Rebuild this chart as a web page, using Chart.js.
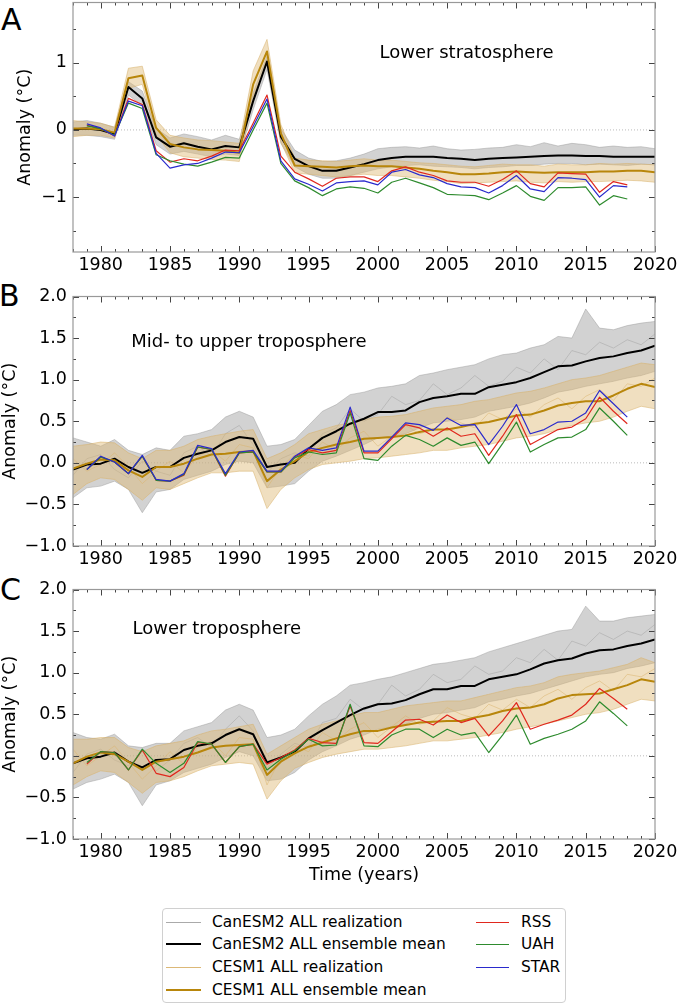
<!DOCTYPE html>
<html>
<head>
<meta charset="utf-8">
<script src="https://cdn.jsdelivr.net/npm/chart.js@4.4.0/dist/chart.umd.min.js"></script>
<style>
html, body { margin: 0; padding: 0; background: #fff; overflow: hidden; width: 677px; height: 1004px; }
body { position: relative; font-family: 'DejaVu Sans', sans-serif; }
canvas { position: absolute; left: 0; }
.letter { position: absolute; font-size: 30px; line-height: 30px; color: #000; }
#legend { position: absolute; left: 162px; top: 908px; width: 402px; height: 93px; border: 1px solid #d0d0d0; border-radius: 4px; font-size: 15.4px; color: #000; background: #fff; }
.item { position: absolute; height: 20px; display: flex; align-items: center; white-space: nowrap; }
.item i { display: inline-block; height: 0; }
</style>
</head>
<body>
<div class="letter" style="left:1px; top:5px;">A</div>
<div class="letter" style="left:-1px; top:281px;">B</div>
<div class="letter" style="left:0px; top:575px;">C</div>
<canvas id="chartA" width="700" height="296" style="top:-14px"></canvas>
<canvas id="chartB" width="700" height="296" style="top:280px"></canvas>
<canvas id="chartC" width="700" height="313" style="top:573px"></canvas>

<div id="legend">
  <div class="item" style="left:3px; top:3px;"><i style="width:35px; margin-right:11px; border-top:1.5px solid #aaaaaa"></i>CanESM2 ALL realization</div>
  <div class="item" style="left:3px; top:25px;"><i style="width:35px; margin-right:11px; border-top:2.5px solid #000"></i>CanESM2 ALL ensemble mean</div>
  <div class="item" style="left:3px; top:48px;"><i style="width:35px; margin-right:11px; border-top:1.5px solid #dcb877"></i>CESM1 ALL realization</div>
  <div class="item" style="left:3px; top:71px;"><i style="width:35px; margin-right:11px; border-top:2.5px solid #b8860b"></i>CESM1 ALL ensemble mean</div>
  <div class="item" style="left:313px; top:3px;"><i style="width:33px; margin-right:12px; border-top:1.5px solid #e0281e"></i>RSS</div>
  <div class="item" style="left:313px; top:25px;"><i style="width:33px; margin-right:12px; border-top:1.5px solid #2e8b2e"></i>UAH</div>
  <div class="item" style="left:313px; top:48px;"><i style="width:33px; margin-right:12px; border-top:1.5px solid #2a2acc"></i>STAR</div>
</div>

<script>
// years of model output and of satellite records
const years = [1978, 1979, 1980, 1981, 1982, 1983, 1984, 1985, 1986, 1987,
  1988, 1989, 1990, 1991, 1992, 1993, 1994, 1995, 1996, 1997,
  1998, 1999, 2000, 2001, 2002, 2003, 2004, 2005, 2006, 2007,
  2008, 2009, 2010, 2011, 2012, 2013, 2014, 2015, 2016, 2017,
  2018, 2019, 2020];
const obsYears = years.slice(1, 41);

const xMajor = [1980, 1985, 1990, 1995, 2000, 2005, 2010, 2015, 2020];
const yMajorA = [-1, 0, 1];
const yMinorA = [-1.5, -0.5, 0.5, 1.5];
const yMajorBC = [-1, -0.5, 0, 0.5, 1, 1.5, 2];
const yMinorBC = [-0.75, -0.25, 0.25, 0.75, 1.25, 1.75];

// ---- A: lower stratosphere
const canMeanA = [0.01, 0.02, 0.00, -0.06, 0.64, 0.47, -0.11, -0.25, -0.20, -0.25,
  -0.29, -0.24, -0.26, 0.43, 1.02, -0.10, -0.43, -0.54, -0.61, -0.61,
  -0.56, -0.51, -0.45, -0.42, -0.40, -0.40, -0.40, -0.42, -0.43, -0.45,
  -0.43, -0.42, -0.41, -0.40, -0.39, -0.38, -0.38, -0.39, -0.39, -0.40,
  -0.40, -0.40, -0.40];
const cesMeanA = [0.02, 0.02, 0.01, -0.04, 0.77, 0.81, 0.03, -0.21, -0.26, -0.29,
  -0.30, -0.31, -0.34, 0.68, 1.17, -0.05, -0.53, -0.54, -0.55, -0.56,
  -0.54, -0.53, -0.54, -0.54, -0.56, -0.58, -0.61, -0.63, -0.66, -0.66,
  -0.65, -0.63, -0.62, -0.63, -0.64, -0.63, -0.63, -0.63, -0.62, -0.62,
  -0.61, -0.61, -0.63];
const canHiA = [0.12, 0.14, 0.10, 0.04, 0.72, 0.58, 0.02, -0.12, -0.06, -0.10,
  -0.15, -0.08, -0.14, 0.55, 1.10, 0.02, -0.30, -0.42, -0.47, -0.46,
  -0.42, -0.36, -0.28, -0.26, -0.25, -0.27, -0.24, -0.28, -0.30, -0.29,
  -0.27, -0.26, -0.22, -0.25, -0.19, -0.24, -0.20, -0.22, -0.26, -0.24,
  -0.26, -0.25, -0.28];
const canLoA = [-0.08, -0.08, -0.10, -0.14, 0.52, 0.36, -0.22, -0.36, -0.32, -0.36,
  -0.40, -0.36, -0.38, 0.30, 0.90, -0.20, -0.55, -0.66, -0.72, -0.72,
  -0.68, -0.63, -0.58, -0.55, -0.53, -0.52, -0.54, -0.55, -0.56, -0.58,
  -0.56, -0.55, -0.53, -0.53, -0.51, -0.50, -0.50, -0.52, -0.51, -0.52,
  -0.53, -0.51, -0.52];
const cesHiA = [0.14, 0.12, 0.10, 0.04, 0.92, 0.95, 0.15, -0.08, -0.12, -0.15,
  -0.16, -0.18, -0.20, 0.88, 1.35, 0.08, -0.42, -0.45, -0.46, -0.47,
  -0.45, -0.43, -0.45, -0.45, -0.47, -0.49, -0.50, -0.52, -0.54, -0.55,
  -0.53, -0.51, -0.52, -0.52, -0.54, -0.51, -0.52, -0.52, -0.50, -0.51,
  -0.50, -0.51, -0.52];
const cesLoA = [-0.10, -0.08, -0.08, -0.12, 0.62, 0.68, -0.08, -0.34, -0.40, -0.42,
  -0.44, -0.45, -0.47, 0.50, 1.00, -0.18, -0.64, -0.66, -0.68, -0.70,
  -0.68, -0.66, -0.68, -0.68, -0.70, -0.72, -0.75, -0.77, -0.80, -0.79,
  -0.78, -0.77, -0.76, -0.78, -0.79, -0.77, -0.78, -0.77, -0.77, -0.76,
  -0.75, -0.76, -0.78];
const rssA = [0.07, 0.02, -0.09, 0.47, 0.38, -0.31, -0.48, -0.43, -0.46, -0.39,
  -0.30, -0.31, 0.10, 0.52, -0.39, -0.63, -0.73, -0.84, -0.72, -0.70,
  -0.70, -0.77, -0.61, -0.55, -0.63, -0.68, -0.76, -0.78, -0.78, -0.84,
  -0.74, -0.61, -0.80, -0.85, -0.64, -0.65, -0.66, -0.93, -0.77, -0.82];
const starA = [0.09, 0.03, -0.09, 0.43, 0.36, -0.35, -0.57, -0.52, -0.50, -0.42,
  -0.33, -0.34, 0.05, 0.46, -0.46, -0.73, -0.81, -0.91, -0.79, -0.77,
  -0.76, -0.82, -0.63, -0.59, -0.67, -0.71, -0.80, -0.85, -0.86, -0.94,
  -0.83, -0.68, -0.88, -0.92, -0.71, -0.72, -0.74, -1.00, -0.83, -0.85];
const uahA = [0.06, 0.02, -0.08, 0.40, 0.32, -0.37, -0.46, -0.51, -0.54, -0.48,
  -0.41, -0.42, 0.00, 0.40, -0.50, -0.76, -0.86, -0.98, -0.88, -0.85,
  -0.87, -0.94, -0.78, -0.72, -0.79, -0.86, -0.96, -0.97, -0.98, -1.04,
  -0.94, -0.83, -0.99, -1.05, -0.86, -0.86, -0.85, -1.12, -0.98, -1.03];

// ---- B: mid- to upper troposphere
const canMeanB = [-0.08, -0.02, -0.01, 0.05, -0.05, -0.12, -0.05, -0.05, 0.06, 0.11,
  0.15, 0.25, 0.31, 0.29, -0.05, -0.02, 0.00, 0.17, 0.30, 0.38,
  0.47, 0.53, 0.61, 0.61, 0.63, 0.73, 0.78, 0.80, 0.83, 0.83,
  0.91, 0.94, 0.97, 1.02, 1.09, 1.16, 1.17, 1.22, 1.26, 1.28,
  1.32, 1.35, 1.41];
const cesMeanB = [-0.07, -0.01, 0.04, 0.03, -0.09, -0.17, -0.05, -0.05, -0.01, 0.05,
  0.10, 0.11, 0.13, 0.14, -0.22, -0.08, 0.02, 0.13, 0.18, 0.22,
  0.25, 0.29, 0.30, 0.31, 0.33, 0.37, 0.40, 0.40, 0.43, 0.47,
  0.49, 0.53, 0.57, 0.58, 0.63, 0.69, 0.72, 0.74, 0.74, 0.81,
  0.89, 0.95, 0.91];
const canHiB = [0.30, 0.25, 0.20, 0.28, 0.15, 0.10, 0.18, 0.15, 0.32, 0.35,
  0.40, 0.55, 0.62, 0.55, 0.20, 0.22, 0.28, 0.45, 0.62, 0.70,
  0.82, 0.85, 0.90, 0.92, 0.95, 1.05, 1.08, 1.12, 1.15, 1.18,
  1.25, 1.30, 1.32, 1.38, 1.42, 1.52, 1.50, 1.85, 1.62, 1.60,
  1.65, 1.68, 1.70];
const canLoB = [-0.42, -0.30, -0.28, -0.22, -0.32, -0.60, -0.35, -0.32, -0.20, -0.15,
  -0.10, -0.02, 0.02, 0.00, -0.30, -0.28, -0.25, -0.10, 0.02, 0.08,
  0.15, 0.22, 0.30, 0.32, 0.35, 0.42, 0.48, 0.50, 0.52, 0.55,
  0.62, 0.65, 0.68, 0.72, 0.78, 0.85, 0.88, 0.92, 0.95, 0.98,
  1.02, 1.05, 1.10];
const canRB = [-0.15, 0.05, 0.10, -0.08, -0.18, 0.02, -0.10, -0.15, 0.12, 0.20,
  0.08, 0.35, 0.45, 0.22, -0.12, 0.05, 0.12, 0.08, 0.35, 0.42,
  0.65, 0.50, 0.58, 0.80, 0.70, 0.75, 0.95, 0.82, 0.90, 1.05,
  0.92, 0.98, 1.15, 1.08, 1.25, 1.12, 1.35, 1.30, 1.45, 1.38,
  1.48, 1.42, 1.55];
const cesHiB = [0.20, 0.22, 0.25, 0.24, 0.12, 0.05, 0.15, 0.15, 0.20, 0.28,
  0.32, 0.35, 0.38, 0.40, 0.05, 0.12, 0.22, 0.35, 0.40, 0.45,
  0.48, 0.52, 0.55, 0.56, 0.58, 0.62, 0.66, 0.68, 0.70, 0.74,
  0.76, 0.80, 0.84, 0.86, 0.90, 0.95, 1.00, 1.02, 1.05, 1.10,
  1.15, 1.20, 1.18];
const cesLoB = [-0.38, -0.25, -0.18, -0.20, -0.32, -0.45, -0.30, -0.32, -0.25, -0.18,
  -0.12, -0.12, -0.10, -0.10, -0.55, -0.32, -0.18, -0.08, -0.02, 0.00,
  0.02, 0.05, 0.06, 0.08, 0.10, 0.12, 0.15, 0.15, 0.18, 0.20,
  0.22, 0.26, 0.30, 0.32, 0.35, 0.40, 0.45, 0.48, 0.50, 0.55,
  0.62, 0.68, 0.65];
const cesRB = [0.05, -0.10, -0.02, 0.12, -0.05, -0.25, -0.10, 0.02, -0.12, 0.08,
  0.15, 0.02, 0.22, 0.18, -0.30, -0.05, 0.10, 0.05, 0.25, 0.15,
  0.30, 0.38, 0.20, 0.32, 0.45, 0.35, 0.40, 0.55, 0.48, 0.42,
  0.60, 0.52, 0.65, 0.55, 0.70, 0.78, 0.65, 0.80, 0.88, 0.75,
  0.95, 0.92, 1.02];
const rssB = [-0.08, 0.07, 0.01, -0.13, 0.08, -0.21, -0.22, -0.15, 0.19, 0.16,
  -0.16, 0.12, 0.13, -0.11, -0.11, 0.07, 0.16, 0.12, 0.15, 0.63,
  0.12, 0.12, 0.29, 0.46, 0.42, 0.32, 0.42, 0.32, 0.35, 0.09,
  0.32, 0.58, 0.22, 0.31, 0.40, 0.43, 0.53, 0.79, 0.62, 0.47];
const uahB = [-0.08, 0.07, 0.01, -0.13, 0.08, -0.21, -0.22, -0.14, 0.19, 0.16,
  -0.15, 0.12, 0.13, -0.11, -0.11, 0.06, 0.13, 0.10, 0.12, 0.60,
  0.05, 0.03, 0.20, 0.33, 0.28, 0.20, 0.30, 0.21, 0.25, -0.01,
  0.23, 0.49, 0.13, 0.22, 0.30, 0.31, 0.40, 0.66, 0.50, 0.33];
const starB = [-0.08, 0.08, 0.01, -0.13, 0.09, -0.20, -0.22, -0.13, 0.21, 0.17,
  -0.13, 0.13, 0.15, -0.10, -0.10, 0.08, 0.18, 0.15, 0.18, 0.67,
  0.14, 0.14, 0.31, 0.48, 0.46, 0.39, 0.54, 0.45, 0.46, 0.22,
  0.44, 0.70, 0.35, 0.40, 0.49, 0.50, 0.60, 0.87, 0.71, 0.55];

// ---- C: lower troposphere
const canMeanC = [-0.09, -0.03, -0.01, 0.04, -0.07, -0.14, -0.05, -0.04, 0.07, 0.12,
  0.15, 0.25, 0.32, 0.26, -0.08, -0.02, 0.05, 0.21, 0.31, 0.40,
  0.49, 0.57, 0.62, 0.63, 0.67, 0.74, 0.80, 0.80, 0.84, 0.84,
  0.92, 0.95, 0.98, 1.04, 1.11, 1.15, 1.17, 1.23, 1.27, 1.28,
  1.32, 1.35, 1.40];
const cesMeanC = [-0.09, -0.01, 0.04, 0.02, -0.07, -0.17, -0.07, -0.04, -0.01, 0.04,
  0.10, 0.12, 0.13, 0.14, -0.23, -0.07, 0.03, 0.11, 0.16, 0.21,
  0.26, 0.30, 0.30, 0.34, 0.37, 0.40, 0.41, 0.42, 0.42, 0.46,
  0.49, 0.54, 0.57, 0.58, 0.62, 0.69, 0.73, 0.74, 0.75, 0.80,
  0.85, 0.92, 0.89];
const canHiC = [0.28, 0.22, 0.20, 0.26, 0.12, 0.10, 0.15, 0.15, 0.30, 0.35,
  0.40, 0.55, 0.62, 0.55, 0.22, 0.25, 0.32, 0.48, 0.62, 0.72,
  0.85, 0.88, 0.92, 0.95, 1.00, 1.05, 1.10, 1.12, 1.15, 1.18,
  1.25, 1.30, 1.35, 1.40, 1.45, 1.50, 1.52, 1.80, 1.62, 1.62,
  1.66, 1.68, 1.70];
const canLoC = [-0.40, -0.32, -0.28, -0.22, -0.32, -0.60, -0.35, -0.30, -0.20, -0.15,
  -0.10, -0.02, 0.05, 0.00, -0.30, -0.28, -0.20, -0.05, 0.05, 0.12,
  0.20, 0.25, 0.32, 0.35, 0.38, 0.45, 0.50, 0.52, 0.55, 0.58,
  0.65, 0.68, 0.72, 0.75, 0.80, 0.85, 0.90, 0.95, 0.98, 1.00,
  1.05, 1.08, 1.12];
const canRC = [-0.20, 0.02, 0.08, -0.05, -0.12, 0.05, -0.18, -0.05, 0.15, 0.22,
  0.10, 0.32, 0.48, 0.30, -0.15, 0.02, 0.15, 0.10, 0.40, 0.45,
  0.68, 0.55, 0.62, 0.85, 0.72, 0.80, 0.98, 0.88, 0.92, 1.08,
  0.98, 1.02, 1.18, 1.12, 1.28, 1.15, 1.38, 1.32, 1.48, 1.40,
  1.50, 1.45, 1.58];
const cesHiC = [0.20, 0.20, 0.22, 0.22, 0.10, 0.05, 0.12, 0.15, 0.18, 0.25,
  0.30, 0.32, 0.35, 0.38, 0.02, 0.12, 0.22, 0.32, 0.38, 0.42,
  0.48, 0.52, 0.52, 0.56, 0.60, 0.62, 0.64, 0.66, 0.66, 0.70,
  0.74, 0.78, 0.82, 0.84, 0.88, 0.95, 0.98, 1.00, 1.02, 1.06,
  1.10, 1.18, 1.12];
const cesLoC = [-0.35, -0.25, -0.18, -0.20, -0.32, -0.45, -0.32, -0.30, -0.25, -0.18,
  -0.12, -0.10, -0.08, -0.10, -0.52, -0.30, -0.15, -0.08, -0.02, 0.02,
  0.05, 0.08, 0.08, 0.10, 0.12, 0.15, 0.18, 0.18, 0.20, 0.22,
  0.25, 0.28, 0.32, 0.35, 0.38, 0.42, 0.46, 0.50, 0.52, 0.56,
  0.62, 0.68, 0.66];
const cesRC = [0.08, -0.12, 0.00, 0.12, -0.08, -0.28, -0.12, 0.05, -0.10, 0.10,
  0.18, 0.00, 0.22, 0.20, -0.35, -0.02, 0.12, 0.05, 0.28, 0.18,
  0.32, 0.40, 0.22, 0.35, 0.48, 0.38, 0.42, 0.58, 0.50, 0.45,
  0.62, 0.55, 0.68, 0.58, 0.72, 0.80, 0.68, 0.82, 0.90, 0.78,
  0.98, 0.95, 1.05];
const rssC = [-0.10, 0.05, 0.04, -0.17, 0.07, -0.21, -0.25, -0.14, 0.16, 0.14,
  -0.08, 0.11, 0.14, -0.10, -0.02, 0.07, 0.21, 0.16, 0.15, 0.60,
  0.16, 0.15, 0.29, 0.43, 0.44, 0.37, 0.49, 0.40, 0.45, 0.24,
  0.42, 0.64, 0.32, 0.38, 0.43, 0.49, 0.62, 0.81, 0.69, 0.56];
const uahC = [-0.08, 0.05, 0.04, -0.17, 0.08, -0.09, -0.20, -0.09, 0.17, 0.14,
  -0.08, 0.11, 0.14, -0.17, -0.04, 0.06, 0.20, 0.12, 0.13, 0.62,
  0.12, 0.11, 0.25, 0.32, 0.32, 0.22, 0.32, 0.25, 0.28, 0.04,
  0.25, 0.49, 0.14, 0.21, 0.26, 0.32, 0.42, 0.65, 0.51, 0.36];

Chart.defaults.font.family = "'DejaVu Sans', sans-serif";

const GRAY_LINE = 'rgba(150,150,150,0.55)';
const GRAY_FILL = 'rgba(160,160,160,0.48)';
const TAN_LINE = 'rgba(214,176,104,0.65)';
const TAN_FILL = 'rgba(222,184,115,0.45)';

function ds(label, xs, ys, color, width, order, extra) {
  return Object.assign({
    label,
    data: ys.map((v, i) => ({x: xs[i], y: v})),
    borderColor: color,
    borderWidth: width,
    pointRadius: 0,
    tension: 0,
    fill: false,
    borderJoinStyle: 'round',
    order
  }, extra || {});
}

// frame, inward ticks on four sides and the panel caption
const frameTicks = {
  id: 'frameTicks',
  afterDatasetsDraw(chart, args, o) {
    const {ctx, chartArea: a} = chart;
    const x = chart.scales.x, y = chart.scales.y;
    ctx.save();
    ctx.lineWidth = 1;
    ctx.strokeStyle = '#444';
    ctx.beginPath();
    years.forEach(yr => {
      const px = Math.round(x.getPixelForValue(yr)) + 0.5;
      const len = xMajor.includes(yr) ? 6 : 3;
      ctx.moveTo(px, a.bottom); ctx.lineTo(px, a.bottom - len);
      ctx.moveTo(px, a.top); ctx.lineTo(px, a.top + len);
    });
    o.yMajor.concat(o.yMinor).forEach(v => {
      const py = Math.round(y.getPixelForValue(v)) + 0.5;
      const len = o.yMajor.includes(v) ? 6 : 3;
      ctx.moveTo(a.left, py); ctx.lineTo(a.left + len, py);
      ctx.moveTo(a.right, py); ctx.lineTo(a.right - len, py);
    });
    ctx.stroke();
    ctx.strokeStyle = '#999';
    ctx.lineWidth = 1.2;
    ctx.strokeRect(a.left, a.top, a.right - a.left, a.bottom - a.top);
    ctx.fillStyle = '#000';
    ctx.font = "18px 'DejaVu Sans'";
    ctx.textAlign = o.label.align;
    ctx.textBaseline = 'middle';
    ctx.fillText(o.label.text, x.getPixelForValue(o.label.x), y.getPixelForValue(o.label.y));
    ctx.restore();
  }
};

function panel(id, p) {
  const sets = [
    ds('zero', [years[0], years[years.length - 1]], [0, 0], '#a8a8a8', 0.8, 20, {borderDash: [1, 2]}),
    ds('CanESM2 ALL realization', years, p.canHi, GRAY_LINE, 0.8, 9, {fill: '+1', backgroundColor: GRAY_FILL}),
    ds('CanESM2 ALL realization', years, p.canLo, GRAY_LINE, 0.8, 9),
    ds('CESM1 ALL realization', years, p.cesHi, TAN_LINE, 0.8, 8, {fill: '+1', backgroundColor: TAN_FILL}),
    ds('CESM1 ALL realization', years, p.cesLo, TAN_LINE, 0.8, 8)
  ];
  if (p.canR) sets.push(ds('CanESM2 ALL realization', years, p.canR, GRAY_LINE, 0.8, 9));
  if (p.cesR) sets.push(ds('CESM1 ALL realization', years, p.cesR, TAN_LINE, 0.8, 8));
  sets.push(ds('CanESM2 ALL ensemble mean', years, p.canMean, '#000000', 2, 4));
  sets.push(ds('CESM1 ALL ensemble mean', years, p.cesMean, '#b8860b', 2, 3));
  sets.push(ds('RSS', obsYears, p.rss, '#e0281e', 1.2, 2));
  sets.push(ds('UAH', obsYears, p.uah, '#2e8b2e', 1.2, 1));
  if (p.star) sets.push(ds('STAR', obsYears, p.star, '#2a2acc', 1.2, 0));

  new Chart(document.getElementById(id), {
    type: 'line',
    data: {datasets: sets},
    options: {
      responsive: false,
      animation: false,
      devicePixelRatio: 1,
      layout: {padding: {top: 15, left: p.padLeft, right: 45, bottom: 0}},
      plugins: {
        legend: {display: false},
        tooltip: {enabled: false},
        frameTicks: {yMajor: p.yMajor, yMinor: p.yMinor, label: p.label}
      },
      scales: {
        x: {
          type: 'linear', min: 1978, max: 2020,
          grid: {display: false, drawTicks: false, tickLength: 0}, border: {display: false},
          afterBuildTicks: s => { s.ticks = xMajor.map(v => ({value: v})); },
          afterFit: s => { s.height = p.xHeight; },
          ticks: {color: '#000', font: {size: 17.5}, padding: 3, maxRotation: 0, autoSkip: false,
            callback: v => String(v)},
          title: {display: !!p.xTitle, text: p.xTitle || '', color: '#000', font: {size: 17.5},
            padding: {top: 0, bottom: 0}}
        },
        y: {
          type: 'linear', min: p.yMin, max: p.yMax,
          grid: {display: false, drawTicks: false, tickLength: 0}, border: {display: false},
          afterBuildTicks: s => { s.ticks = p.yMajor.map(v => ({value: v})); },
          afterFit: s => { s.width = 73 - p.padLeft; },
          ticks: {color: '#000', font: {size: 17.5}, padding: 6, callback: p.fmt},
          title: {display: true, text: 'Anomaly (°C)', color: '#000', font: {size: 17.5},
            padding: {top: 0, bottom: 0}}
        }
      }
    },
    plugins: [frameTicks]
  });
}

const fmtA = v => v === 0 ? '0' : (v < 0 ? '\u2212' + Math.abs(v) : String(v));
const fmtBC = v => (v < 0 ? '\u2212' : '') + Math.abs(v).toFixed(1);

panel('chartA', {
  canHi: canHiA, canLo: canLoA, cesHi: cesHiA, cesLo: cesLoA,
  canMean: canMeanA, cesMean: cesMeanA, rss: rssA, uah: uahA, star: starA,
  yMin: -1.82, yMax: 1.9, yMajor: yMajorA, yMinor: yMinorA, fmt: fmtA,
  padLeft: 14.5, xHeight: 30,
  label: {text: 'Lower stratosphere', x: 2006.4, y: 1.14, align: 'center'}
});
panel('chartB', {
  canHi: canHiB, canLo: canLoB, canR: canRB, cesHi: cesHiB, cesLo: cesLoB, cesR: cesRB,
  canMean: canMeanB, cesMean: cesMeanB, rss: rssB, uah: uahB, star: starB,
  yMin: -1, yMax: 2, yMajor: yMajorBC, yMinor: yMinorBC, fmt: fmtBC,
  padLeft: 0, xHeight: 30,
  label: {text: 'Mid- to upper troposphere', x: 1982.2, y: 1.45, align: 'left'}
});
panel('chartC', {
  canHi: canHiC, canLo: canLoC, canR: canRC, cesHi: cesHiC, cesLo: cesLoC, cesR: cesRC,
  canMean: canMeanC, cesMean: cesMeanC, rss: rssC, uah: uahC,
  yMin: -1, yMax: 2, yMajor: yMajorBC, yMinor: yMinorBC, fmt: fmtBC,
  padLeft: 0, xHeight: 47, xTitle: 'Time (years)',
  label: {text: 'Lower troposphere', x: 1982.3, y: 1.52, align: 'left'}
});
</script>
</body>
</html>
